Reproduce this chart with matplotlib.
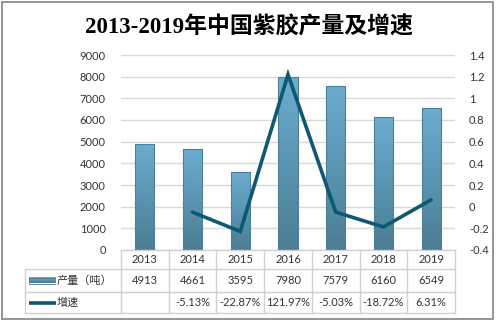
import matplotlib
matplotlib.use("Agg")
import matplotlib.pyplot as plt
import numpy as np
from matplotlib.transforms import blended_transform_factory
from matplotlib.patches import Rectangle
from matplotlib.lines import Line2D

plt.rcParams['font.family'] = ['Lato', 'Noto Sans CJK SC', 'DejaVu Sans']

years = ['2013', '2014', '2015', '2016', '2017', '2018', '2019']
output = [4913, 4661, 3595, 7980, 7579, 6160, 6549]
growth = [None, -0.0513, -0.2287, 1.2197, -0.0503, -0.1872, 0.0631]
growth_labels = ['', '-5.13%', '-22.87%', '121.97%', '-5.03%', '-18.72%', '6.31%']
series_names = ['产量（吨）', '增速']
title = '2013-2019年中国紫胶产量及增速'

W, H = 497, 324
fig = plt.figure(figsize=(W / 100, H / 100), dpi=100)
fig.patch.set_facecolor('white')

def fx(px):
    return px / W

def fy(py):
    return 1 - py / H

# outer frame
fig.add_artist(Rectangle((fx(2), fy(319)), fx(493) - fx(2), fy(2) - fy(319),
                         transform=fig.transFigure, fill=False,
                         edgecolor='#8c8c8c', linewidth=1.3))

fig.text(0.5, fy(27), title, ha='center', va='center', fontsize=16.5,
         fontweight='bold', family=['Liberation Serif', 'Noto Sans CJK SC'],
         color='black')

L, R, T, B = 121, 455, 55, 250
ax = fig.add_axes([fx(L), fy(B), fx(R) - fx(L), fy(T) - fy(B)])
x = np.arange(len(years))
ax.set_xlim(-0.5, len(years) - 0.5)
ax.set_ylim(0, 9000)
ax.set_yticks(np.arange(0, 9001, 1000))
ax.yaxis.grid(True, color='#d9d9d9', linewidth=1)
ax.set_axisbelow(True)
for s in ax.spines.values():
    s.set_visible(False)
ax.tick_params(axis='y', length=0, labelsize=8, colors='#333333', pad=11)
ax.tick_params(axis='x', length=0, labelbottom=False)

bars = ax.bar(x, output, width=0.4, color='none', edgecolor='#4d7f96',
              linewidth=0.8, zorder=3)
grad = np.linspace(0, 1, 256).reshape(-1, 1)
from matplotlib.colors import LinearSegmentedColormap
cmap = LinearSegmentedColormap.from_list('g', ['#4b7d93', '#6badd0'])
for b in bars:
    x0, y0 = b.get_x(), b.get_y()
    w, h = b.get_width(), b.get_height()
    im = ax.imshow(grad, extent=[x0, x0 + w, y0, y0 + h], origin='lower',
                   cmap=cmap, aspect='auto', zorder=2.5)
    im.set_clip_path(b)
ax.set_xlim(-0.5, len(years) - 0.5)
ax.set_ylim(0, 9000)

ax2 = ax.twinx()
ax2.set_ylim(-0.4, 1.4)
ax2.set_yticks(np.round(np.arange(-0.4, 1.41, 0.2), 1))
ax2.set_yticklabels(['-0.4', '-0.2', '0', '0.2', '0.4', '0.6', '0.8', '1', '1.2', '1.4'])
for s in ax2.spines.values():
    s.set_visible(False)
ax2.tick_params(axis='y', length=0, labelsize=8, colors='#333333', pad=10)
gx = [xi for xi, g in zip(x, growth) if g is not None]
gy = [g for g in growth if g is not None]
ax2.plot(gx, gy, color='#0e5871', linewidth=2.6, solid_joinstyle='miter',
         solid_capstyle='round', zorder=4)

# data table
tr = blended_transform_factory(ax.transData, fig.transFigure)
rows = [250, 269, 292, 313]
lc = '#d0d0d0'
# header row line
fig.add_artist(Line2D([fx(L), fx(R)], [fy(rows[0])] * 2, transform=fig.transFigure,
                      color=lc, linewidth=1))
for r in rows[1:]:
    fig.add_artist(Line2D([fx(25), fx(R)], [fy(r)] * 2, transform=fig.transFigure,
                          color=lc, linewidth=1))
fig.add_artist(Line2D([fx(25), fx(25)], [fy(rows[1]), fy(rows[3])],
                      transform=fig.transFigure, color=lc, linewidth=1))
for i in range(len(years) + 1):
    fig.add_artist(Line2D([i - 0.5, i - 0.5], [fy(rows[0]), fy(rows[3])],
                          transform=tr, color=lc, linewidth=1))

def rowc(k):
    return fy((rows[k] + rows[k + 1]) / 2)

for i, yr in enumerate(years):
    fig.text(i, rowc(0), yr, transform=tr, ha='center', va='center',
             fontsize=8, color='#333333')
    fig.text(i, rowc(1), str(output[i]), transform=tr, ha='center', va='center',
             fontsize=8, color='#333333')
    fig.text(i, rowc(2), growth_labels[i], transform=tr, ha='center', va='center',
             fontsize=8, color='#333333')

# legend keys
leg_ax = fig.add_axes([fx(29), fy(rows[3]), fx(56) - fx(29), fy(rows[1]) - fy(rows[3])])
leg_ax.set_xlim(0, 1)
leg_ax.set_ylim(rows[3], rows[1])
leg_ax.invert_yaxis()
leg_ax.axis('off')
ky = (rows[1] + rows[2]) / 2
leg_ax.imshow(grad, extent=[0, 1, ky + 3, ky - 3], origin='lower', cmap=cmap,
              aspect='auto')
leg_ax.add_patch(Rectangle((0, ky - 3), 1, 6, fill=False, edgecolor='#4d7f96',
                           linewidth=0.6))
ky2 = (rows[2] + rows[3]) / 2
leg_ax.plot([0, 1], [ky2, ky2], color='#0e5871', linewidth=2.6)
leg_ax.set_xlim(0, 1)
leg_ax.set_ylim(rows[3], rows[1])

fig.text(fx(57), rowc(1), series_names[0], ha='left', va='center', fontsize=8,
         color='#333333')
fig.text(fx(57), rowc(2), series_names[1], ha='left', va='center', fontsize=8,
         color='#333333')

fig.savefig('out.png', dpi=100, facecolor='white')
